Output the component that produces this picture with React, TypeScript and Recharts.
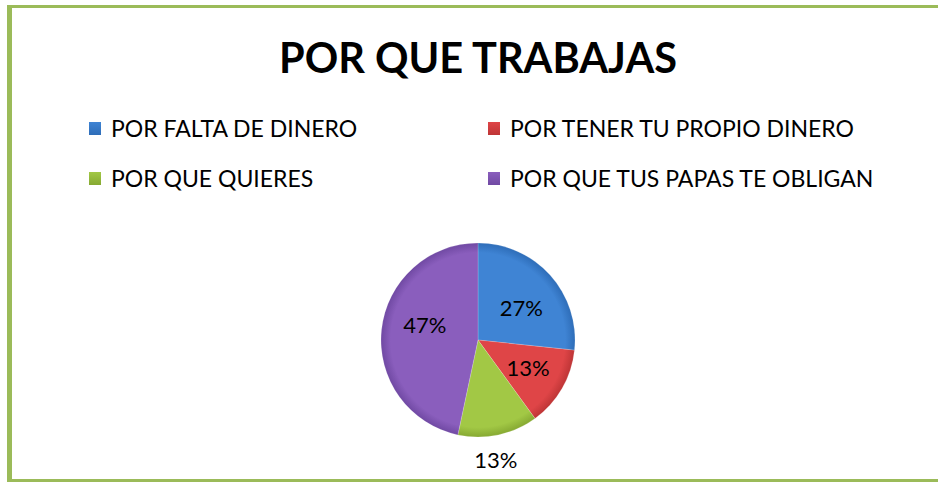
import React from 'react';
import { PieChart, Pie, Cell } from 'recharts';

const categories = [
  'POR FALTA DE DINERO',
  'POR TENER TU PROPIO DINERO',
  'POR QUE QUIERES',
  'POR QUE TUS PAPAS TE OBLIGAN',
];
const answers = [4, 2, 2, 7];
const title = 'POR QUE TRABAJAS';

const colors = ['#3F84D4', '#DF4547', '#A2C845', '#8A5EBD'];
const darkColors = ['#2E6DB8', '#BE3536', '#86A932', '#7049A3'];

const data = categories.map((name, i) => ({ name, value: answers[i] }));

// label placement per slice: radius factor of outer radius + small angle nudge
const labelPlace = [
  { r: 0.56, da: -5 },
  { r: 0.59, da: 1 },
  { r: 1.25, da: -3.6 },
  { r: 0.57, da: -10 },
];

const FONT = 'Lato, "Open Sans", sans-serif';
const RAD = Math.PI / 180;
const CX = 478;
const CY = 340;
const R = 97;

const renderLabel = (props: any) => {
  const { cx, cy, midAngle, outerRadius, percent, index } = props;
  const p = labelPlace[index];
  const a = (midAngle + p.da) * RAD;
  const r = outerRadius * p.r;
  const x = cx + r * Math.cos(a);
  const y = cy - r * Math.sin(a);
  return (
    <text
      x={x}
      y={y}
      fill="#000"
      textAnchor="middle"
      dominantBaseline="central"
      fontFamily={FONT}
      fontSize={22}
    >
      {`${Math.round((percent || 0) * 100)}%`}
    </text>
  );
};

const ChartLegend = () => (
  <div style={{ position: 'absolute', left: 0, top: 114, width: 938, height: 80, fontFamily: FONT, fontSize: 23 }}>
    {data.map((d, i) => (
      <div
        key={d.name}
        style={{
          position: 'absolute',
          left: i % 2 === 0 ? 89 : 488,
          top: i < 2 ? 0 : 50,
          display: 'flex',
          alignItems: 'center',
          height: 28,
          whiteSpace: 'nowrap',
          color: '#000',
        }}
      >
        <span
          style={{
            display: 'inline-block',
            width: 12,
            height: 13,
            marginRight: 10,
            background: `linear-gradient(180deg, ${colors[i]} 0%, ${darkColors[i]} 100%)`,
          }}
        />
        {d.name}
      </div>
    ))}
  </div>
);

export default function App() {
  return (
    <div style={{ position: 'absolute', left: 0, top: 0, width: 938, height: 482, background: '#fff', overflow: 'hidden' }}>
      {/* green frame */}
      <div style={{ position: 'absolute', left: 7, top: 5, width: 931, height: 3, background: '#9BBB59' }} />
      <div style={{ position: 'absolute', left: 7, top: 5, width: 5, height: 477, background: '#9BBB59' }} />
      <div style={{ position: 'absolute', left: 7, top: 479, width: 931, height: 3, background: '#9BBB59' }} />

      <svg style={{ position: 'absolute', left: 0, top: 0 }} width={938} height={100}>
        <text x={478} y={73} textAnchor="middle" fontFamily={FONT} fontWeight="bold" fontSize={41.5} fill="#000">
          {title}
        </text>
      </svg>

      <ChartLegend />

      <div style={{ position: 'absolute', left: 0, top: 0 }}>
        <PieChart width={938} height={482} margin={{ top: 0, right: 0, bottom: 0, left: 0 }}>
          <defs>
            {colors.map((c, i) => (
              <radialGradient key={c} id={`grad${i}`} cx={CX} cy={CY} r={R} gradientUnits="userSpaceOnUse">
                <stop offset="0%" stopColor={c} />
                <stop offset="90%" stopColor={c} />
                <stop offset="100%" stopColor={darkColors[i]} />
              </radialGradient>
            ))}
          </defs>
          <Pie
            data={data}
            dataKey="value"
            nameKey="name"
            cx={CX}
            cy={CY}
            outerRadius={R}
            startAngle={90}
            endAngle={-270}
            stroke="rgba(255,255,255,0.35)"
            strokeWidth={0.5}
            labelLine={false}
            label={renderLabel}
            isAnimationActive={false}
          >
            {data.map((d, i) => (
              <Cell key={d.name} fill={`url(#grad${i})`} />
            ))}
          </Pie>
        </PieChart>
      </div>
    </div>
  );
}
